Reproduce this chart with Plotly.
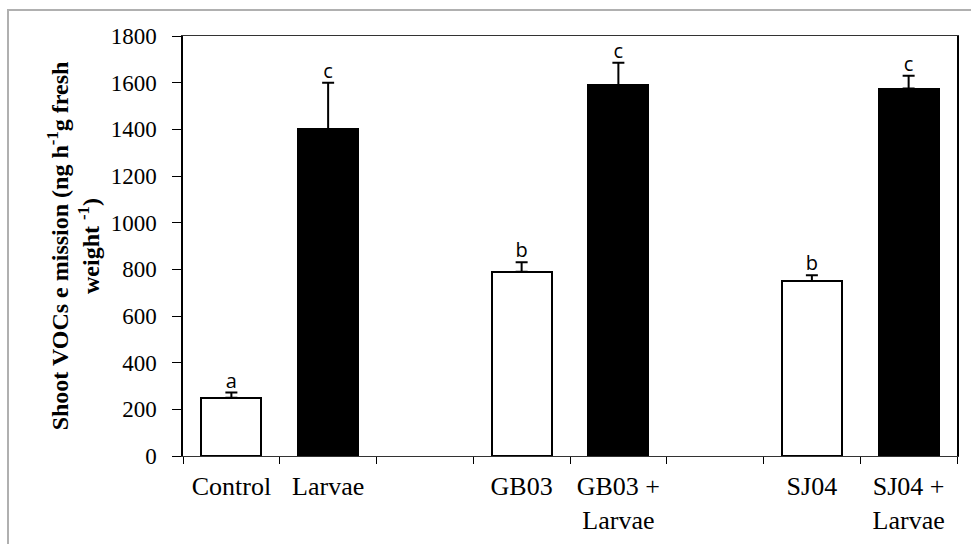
import plotly.graph_objects as go

positions = [0, 1, 3, 4, 6, 7]
labels = ["Control", "Larvae", "GB03", "GB03 +<br>Larvae", "SJ04", "SJ04 +<br>Larvae"]
values = [250, 1400, 790, 1590, 750, 1575]
errors = [22, 200, 40, 95, 25, 55]
letters = ["a", "c", "b", "c", "b", "c"]
fills = ["white", "black", "white", "black", "white", "black"]
yticks = [0, 200, 400, 600, 800, 1000, 1200, 1400, 1600, 1800]
boundaries = [-0.5, 0.5, 1.5, 2.5, 3.5, 4.5, 5.5, 6.5, 7.5]

serif = "Liberation Serif"

fig = go.Figure()
fig.add_trace(go.Bar(
    x=positions, y=values, width=0.62,
    marker=dict(color=fills, line=dict(color="black", width=2)),
    error_y=dict(type="data", array=errors, arrayminus=[0]*len(errors),
                 color="black", thickness=2, width=6, symmetric=False),
    showlegend=False, hoverinfo="skip",
))
# letters
fig.add_trace(go.Scatter(
    x=positions, y=[v + e for v, e in zip(values, errors)],
    mode="text", text=letters, textposition="top center",
    textfont=dict(family="Open Sans", size=20, color="black"),
    showlegend=False, hoverinfo="skip",
))
# invisible trace on xaxis2 for boundary ticks
fig.add_trace(go.Scatter(x=boundaries, y=[0]*len(boundaries), xaxis="x2",
                         mode="markers", marker=dict(opacity=0), showlegend=False,
                         hoverinfo="skip"))

fig.update_layout(
    width=971, height=544,
    margin=dict(l=183, r=14, t=36, b=88, autoexpand=False),
    paper_bgcolor="white", plot_bgcolor="white",
    bargap=0,
    xaxis=dict(range=[-0.5, 7.5], tickmode="array", tickvals=positions, ticktext=labels,
               ticks="", showline=True, linecolor="#333333", linewidth=1.2, mirror=True,
               showgrid=False, zeroline=False, ticklabelstandoff=7, automargin=False,
               tickfont=dict(family=serif, size=26, color="black")),
    xaxis2=dict(range=[-0.5, 7.5], overlaying="x", anchor="y", side="bottom",
                tickmode="array", tickvals=boundaries, showticklabels=False,
                ticks="outside", ticklen=7, tickcolor="black", tickwidth=1,
                showline=False, showgrid=False, zeroline=False, automargin=False),
    yaxis=dict(range=[0, 1800], tickmode="array", tickvals=yticks,
               ticks="outside", ticklen=9, tickcolor="black", tickwidth=1,
               showline=True, linecolor="black", linewidth=1.5, mirror=True,
               showgrid=False, zeroline=False, ticklabelstandoff=11, automargin=False,
               tickfont=dict(family=serif, size=23, color="black"),
               title=dict(text="<b>Shoot VOCs e mission (ng h<sup>-1</sup>g fresh<br>weight <sup>-1</sup>)</b>",
                          font=dict(family=serif, size=24, color="black"), standoff=4)),
    shapes=[dict(type="rect", xref="paper", yref="paper",
                 x0=(8-183)/774, x1=(990-183)/774, y0=(456-560)/420, y1=(456-10)/420,
                 line=dict(color="#b0b0b0", width=2), fillcolor="rgba(0,0,0,0)", layer="below")],
)

fig.write_html("out.html", config={"displayModeBar": False},
               post_script="document.body.style.margin='0';document.body.style.overflow='hidden';")
